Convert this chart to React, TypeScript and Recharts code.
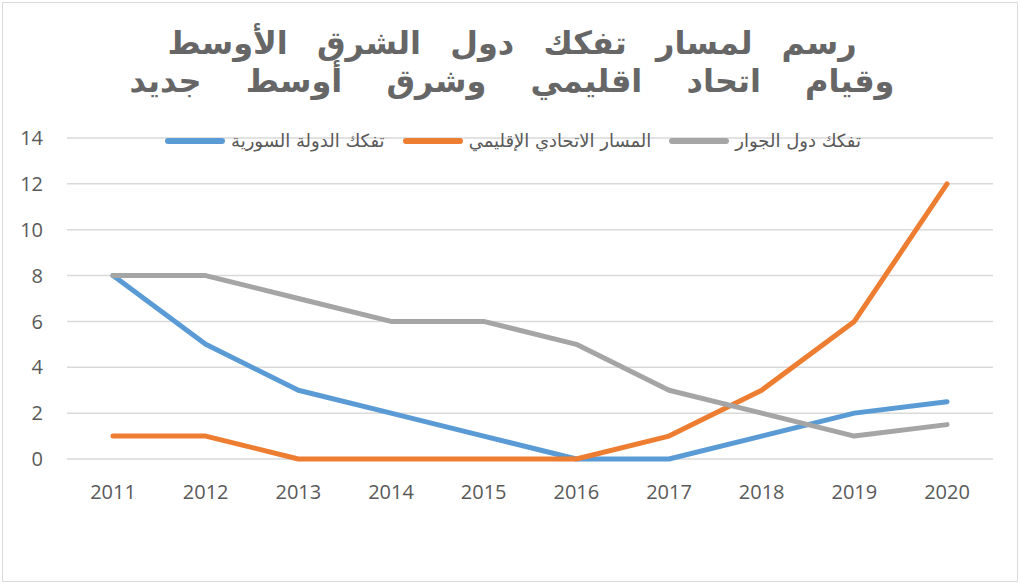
import React from 'react'
import { LineChart, Line, XAxis, YAxis, CartesianGrid } from 'recharts'

const years = ['2011', '2012', '2013', '2014', '2015', '2016', '2017', '2018', '2019', '2020']
const syrianState = [8, 5, 3, 2, 1, 0, 0, 1, 2, 2.5]
const regionalUnion = [1, 1, 0, 0, 0, 0, 1, 3, 6, 12]
const neighbours = [8, 8, 7, 6, 6, 5, 3, 2, 1, 1.5]
const yTicks = [0, 2, 4, 6, 8, 10, 12, 14]

const titleLines = ['رسم لمسار تفكك دول الشرق الأوسط', 'وقيام اتحاد اقليمي وشرق أوسط جديد']
const titleWordGaps = [18, 33]

const series = [
  { key: 'syria', name: 'تفكك الدولة السورية', color: '#5b9bd5', values: syrianState },
  { key: 'union', name: 'المسار الاتحادي الإقليمي', color: '#ed7d31', values: regionalUnion },
  { key: 'neighbours', name: 'تفكك دول الجوار', color: '#a5a5a5', values: neighbours },
]

const data = years.map((year, i) => {
  const row: Record<string, string | number> = { year }
  series.forEach((s) => (row[s.key] = s.values[i]))
  return row
})

const TEXT = '#595959'
const ARABIC = '"DejaVu Sans", sans-serif'
const DIGITS = '"Open Sans", sans-serif'

// legend sits on top of the plot, just under the 14 gridline
const LegendRow = () => (
  <div
    style={{
      position: 'absolute', left: 165, top: 130, display: 'flex', alignItems: 'center',
      fontFamily: ARABIC, fontSize: 18, color: TEXT,
    }}
  >
    {series.map((s) => (
      <div key={s.key} style={{ display: 'flex', alignItems: 'center', marginRight: 18 }}>
        <div style={{ width: 60, height: 6, borderRadius: 3, background: s.color, marginRight: 6 }} />
        <span dir="rtl">{s.name}</span>
      </div>
    ))}
  </div>
)

export default function App() {
  return (
    <div style={{ position: 'absolute', left: 0, top: 0, width: 1024, height: 586, background: '#fff' }}>
      <div
        style={{
          position: 'absolute', left: 2, top: 2, width: 1016, height: 580,
          border: '1px solid #d9d9d9', boxSizing: 'border-box',
        }}
      />
      <LineChart width={1024} height={586} data={data} margin={{ top: 138, right: 31, bottom: 67, left: 0 }}>
        <CartesianGrid vertical={false} stroke="#d9d9d9" strokeWidth={1.5} />
        <XAxis
          dataKey="year"
          axisLine={false}
          tickLine={false}
          height={60}
          padding={{ left: 46, right: 46 }}
          tick={{ fill: TEXT, fontSize: 20, fontFamily: DIGITS }}
          dy={18}
        />
        <YAxis
          width={67}
          domain={[0, 14]}
          ticks={yTicks}
          axisLine={false}
          tickLine={false}
          tick={{ fill: TEXT, fontSize: 20, fontFamily: DIGITS }}
          dx={-16}
        />
        {series.map((s) => (
          <Line
            key={s.key}
            dataKey={s.key}
            name={s.name}
            type="linear"
            stroke={s.color}
            strokeWidth={5}
            strokeLinecap="round"
            strokeLinejoin="round"
            dot={false}
            activeDot={false}
            isAnimationActive={false}
          />
        ))}
      </LineChart>
      <div
        dir="rtl"
        style={{
          position: 'absolute', left: 0, top: 24, width: 1024, textAlign: 'center',
          fontFamily: ARABIC, fontWeight: 'bold', fontSize: 32, lineHeight: '38px',
          color: '#666666',
        }}
      >
        {titleLines.map((t, i) => (
          <div key={t} style={{ wordSpacing: titleWordGaps[i] }}>{t}</div>
        ))}
      </div>
      <LegendRow />
    </div>
  )
}
